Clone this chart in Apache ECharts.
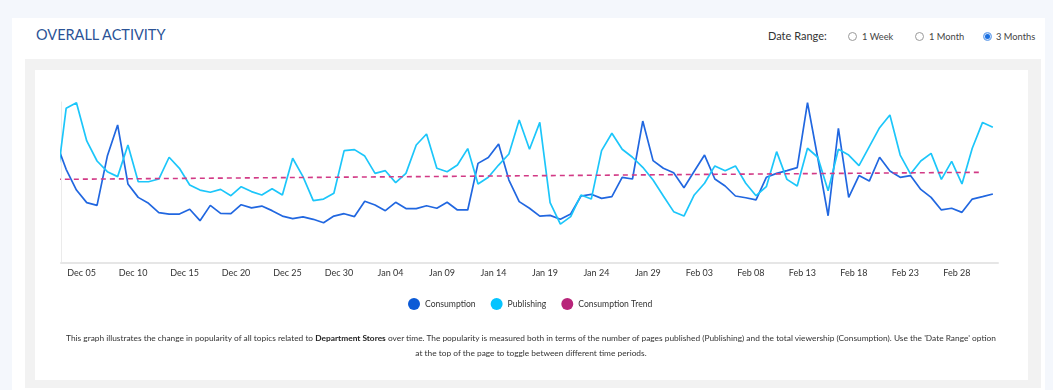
<!DOCTYPE html>
<html>
<head>
<meta charset="utf-8">
<script src="https://cdn.jsdelivr.net/npm/echarts@6/dist/echarts.min.js"></script>
<style>
  html, body { margin: 0; padding: 0; }
  body { width: 1053px; height: 390px; overflow: hidden; background: #f4f7fc; font-family: Lato, "Open Sans", sans-serif; position: relative; }
  .card { position: absolute; left: 12px; top: 18px; width: 1033px; height: 380px; background: #ffffff; }
  .title { position: absolute; left: 36px; top: 27px; font-size: 14.5px; line-height: 16px; color: #2b5396; white-space: nowrap; }
  .range { position: absolute; top: 29px; font-size: 11px; line-height: 14px; color: #333; white-space: nowrap; }
  .opt { position: absolute; top: 30px; font-size: 9.3px; line-height: 13px; color: #444; white-space: nowrap; }
  .radio { position: absolute; top: 32px; width: 7px; height: 7px; border-radius: 50%; border: 1px solid #9a9a9a; background: #fff; }
  .radio.on { border-color: #7fb0ee; background: #1a6fe0; box-shadow: inset 0 0 0 1px #cfe0fb; }
  .panel { position: absolute; left: 25px; top: 59px; width: 1016px; height: 329px; background: #f2f2f2; }
  .inner { position: absolute; left: 35px; top: 70px; width: 993px; height: 310px; background: #ffffff; }
  #chart { position: absolute; left: 35px; top: 70px; width: 992px; height: 310px; }
  .caption { position: absolute; left: 35px; top: 331px; width: 992px; text-align: center; font-size: 8.35px; line-height: 15px; color: #333; white-space: nowrap; }
  .caption b { font-weight: bold; color: #222; }
</style>
</head>
<body>
<div class="card"></div>
<div class="title">OVERALL ACTIVITY</div>
<div class="range" style="left:768px">Date Range:</div>
<div class="radio" style="left:848px"></div><div class="opt" style="left:862px">1 Week</div>
<div class="radio" style="left:915px"></div><div class="opt" style="left:929px">1 Month</div>
<div class="radio on" style="left:983px"></div><div class="opt" style="left:996px">3 Months</div>
<div class="panel"></div>
<div class="inner"></div>
<div id="chart"></div>
<div class="caption">This graph illustrates the change in popularity of all topics related to <b>Department Stores</b> over time. The popularity is measured both in terms of the number of pages published (Publishing) and the total viewership (Consumption). Use the 'Date Range' option<br>at the top of the page to toggle between different time periods.</div>
<script>
const DAY = 86400000;
// Daily dates (one point per day, plotted at noon); the first day lies partly before the axis start
const startDay = [2022, 11, 2]; // 2022-12-02
const dayCount = 92;
const dates = [];
for (let i = 0; i < dayCount; i++) {
  dates.push(new Date(startDay[0], startDay[1], startDay[2] + i, 12, 0, 0).getTime());
}

const consumption = [
  71.4, 55.1, 42.9, 35.5, 33.9, 62.9, 81.2, 46.5, 38.6, 35.1,
  29.6, 28.8, 28.8, 31.6, 24.9, 33.9, 29.2, 29.0, 34.3, 32.4,
  33.5, 30.8, 27.6, 26.1, 27.1, 25.7, 23.7, 27.6, 29.0, 27.3,
  36.3, 34.1, 30.8, 35.7, 32.0, 32.0, 33.7, 32.2, 35.7, 31.2,
  31.2, 58.6, 62.0, 70.0, 48.8, 36.1, 32.2, 27.6, 28.0, 25.7,
  28.8, 39.4, 40.4, 38.0, 39.0, 50.4, 49.4, 83.5, 60.2, 55.7,
  53.1, 44.3, 54.0, 63.5, 49.4, 45.3, 39.4, 38.4, 37.1, 50.4,
  52.7, 54.3, 56.1, 94.3, 61.6, 27.8, 79.2, 38.6, 51.4, 48.2,
  62.2, 54.1, 50.4, 51.4, 43.3, 38.6, 31.2, 32.2, 29.8, 37.6,
  39.0, 40.6
];

const publishing = [
  43.0, 91.0, 94.3, 71.8, 60.0, 53.7, 50.8, 69.4, 47.8, 47.8,
  49.4, 62.2, 55.7, 45.9, 42.9, 41.6, 43.3, 39.6, 44.9, 42.0,
  40.0, 43.7, 40.0, 61.6, 50.8, 36.7, 37.6, 41.0, 66.1, 66.7,
  62.9, 52.7, 54.3, 47.3, 52.7, 69.4, 75.9, 55.7, 53.7, 57.6,
  67.3, 46.5, 50.4, 57.6, 64.1, 84.1, 66.9, 82.7, 35.5, 22.9,
  27.3, 40.0, 37.6, 66.1, 76.3, 66.9, 62.2, 56.3, 48.8, 39.4,
  30.2, 27.6, 40.0, 46.9, 57.1, 54.3, 57.1, 46.9, 39.6, 44.9,
  65.5, 49.2, 45.3, 67.5, 62.2, 42.5, 66.9, 63.5, 57.3, 68.4,
  79.6, 87.1, 63.5, 52.4, 60.0, 64.5, 49.2, 59.8, 46.5, 67.5,
  82.7, 79.8
];

// Linear trend of consumption: value at the first day and at the second-to-last day
const trendStart = 49.2;
const trendEnd = 53.35;
const trendEndIndex = 90;

// Tick labels every five days
const tickLabels = [
  'Dec 05','Dec 10','Dec 15','Dec 20','Dec 25','Dec 30','Jan 04','Jan 09','Jan 14','Jan 19',
  'Jan 24','Jan 29','Feb 03','Feb 08','Feb 13','Feb 18','Feb 23','Feb 28'
];
const tickDates = [
  [2022,11,5],[2022,11,10],[2022,11,15],[2022,11,20],[2022,11,25],[2022,11,30],
  [2023,0,4],[2023,0,9],[2023,0,14],[2023,0,19],[2023,0,24],[2023,0,29],
  [2023,1,3],[2023,1,8],[2023,1,13],[2023,1,18],[2023,1,23],[2023,1,28]
];
const axisStart = new Date(2022, 11, 3, 0, 0, 0).getTime();
const axisEnd = new Date(2023, 2, 4, 0, 0, 0).getTime();

// x positions in days from the axis start
const dayPos = t => Math.round((t - axisStart) / DAY * 1000) / 1000;
const tickValues = tickDates.map(t => dayPos(new Date(t[0], t[1], t[2], 0, 0, 0).getTime()));
const labelOf = {};
tickValues.forEach((v, i) => { labelOf[v] = tickLabels[i]; });

const chart = echarts.init(document.getElementById('chart'), null, { renderer: 'canvas' });
chart.setOption({
  animation: false,
  textStyle: { fontFamily: 'Lato' },
  grid: { left: 26, top: 32, width: 937, height: 161 },
  legend: {
    left: 368, top: 223,
    icon: 'circle', itemWidth: 12, itemHeight: 12, itemGap: 15,
    textStyle: { fontSize: 8.6, color: '#333', fontFamily: 'Lato' },
    itemStyle: { borderWidth: 0 },
    data: ['Consumption', 'Publishing', 'Consumption Trend']
  },
  xAxis: {
    type: 'value', min: 0, max: dayPos(axisEnd),
    axisLine: { show: true, onZero: false, lineStyle: { color: '#e6e6e6', width: 2 } },
    axisTick: { show: false },
    splitLine: { show: false },
    axisLabel: {
      customValues: tickValues,
      formatter: v => labelOf[Math.round(v * 1000) / 1000] || '',
      fontSize: 9, color: '#333', margin: 6, fontFamily: 'Lato',
      showMinLabel: true, showMaxLabel: true, hideOverlap: false
    }
  },
  yAxis: {
    type: 'value', min: 0, max: 94.7,
    axisLine: { show: true, onZero: false, lineStyle: { color: '#ebebeb', width: 1 } },
    axisTick: { show: false }, axisLabel: { show: false }, splitLine: { show: false }
  },
  series: [
    {
      name: 'Consumption', type: 'line', symbol: 'none', clip: true,
      data: dates.map((d, i) => [dayPos(d), consumption[i]]),
      lineStyle: { color: '#2167e0', width: 1.7 },
      itemStyle: { color: '#0b5ad6' }
    },
    {
      name: 'Publishing', type: 'line', symbol: 'none', clip: true,
      data: dates.map((d, i) => [dayPos(d), publishing[i]]),
      lineStyle: { color: '#1cc6fa', width: 1.7 },
      itemStyle: { color: '#05c4ff' }
    },
    {
      name: 'Consumption Trend', type: 'line', symbol: 'none', clip: true,
      data: [[dayPos(dates[0]), trendStart], [dayPos(dates[trendEndIndex]), trendEnd]],
      lineStyle: { color: '#d23a86', width: 1.6, type: [5, 4] },
      itemStyle: { color: '#b8247a' }
    }
  ]
});
</script>
</body>
</html>
